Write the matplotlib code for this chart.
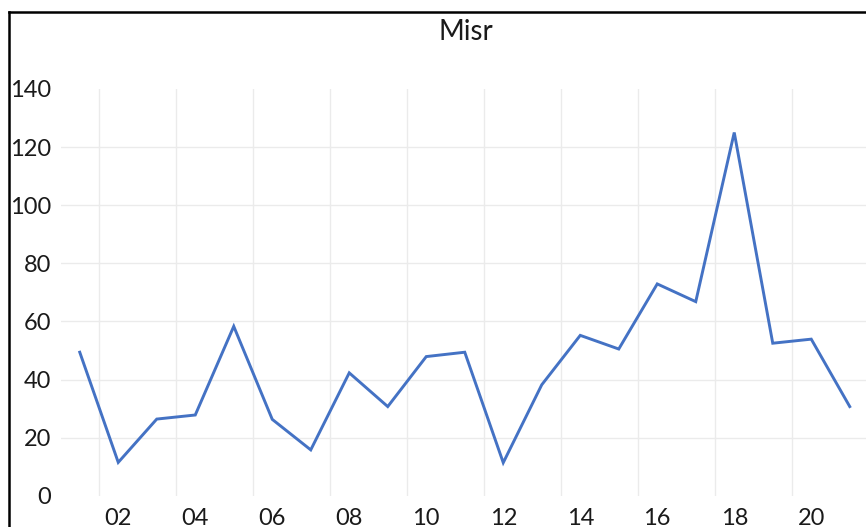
import matplotlib
matplotlib.use("Agg")
import matplotlib.pyplot as plt
from matplotlib.lines import Line2D

plt.rcParams['font.family'] = ['Lato', 'DejaVu Sans']

title = "Misr"
categories = ["01", "02", "03", "04", "05", "06", "07", "08", "09", "10", "11",
              "12", "13", "14", "15", "16", "17", "18", "19", "20", "21"]
values = [49.4, 11.5, 26.4, 27.8, 58.3, 26.3, 15.8, 42.3, 30.7, 47.9, 49.4,
          11.4, 38.2, 55.2, 50.5, 72.9, 66.8, 125.0, 52.5, 53.9, 30.7]
yticks = [0, 20, 40, 60, 80, 100, 120, 140]

W, H = 866, 527
fig = plt.figure(figsize=(W / 100, H / 100), dpi=100)
fig.patch.set_facecolor("white")

left_px, right_px = 60.5, 866.0
bottom_px, top_px = 495.8, 88.9
ax = fig.add_axes([left_px / W, (H - bottom_px) / H,
                   (right_px - left_px) / W, (bottom_px - top_px) / H])

n = len(categories)
xs = list(range(1, n + 1))
cat_w = 38.5
xmax = 0.5 + (right_px - left_px) / cat_w
ax.set_xlim(0.5, xmax)
ax.set_ylim(0, 140)

grid_c = "#EBEBEB"
for b in [i + 0.5 for i in range(1, n, 2)]:
    ax.axvline(b, color=grid_c, lw=1.0, zorder=1)
for yv in yticks[1:-1]:
    ax.axhline(yv, color=grid_c, lw=1.0, zorder=1)

ax.plot(xs, values, color="#4472C4", lw=2.1, solid_joinstyle="miter", zorder=3)

for s in ax.spines.values():
    s.set_visible(False)

ax.set_yticks(yticks)
ax.set_yticklabels([str(v) for v in yticks])
ax.set_xticks(xs[1::2])
ax.set_xticklabels(categories[1::2])
ax.tick_params(axis="both", length=0, labelsize=17, colors="#1a1a1a")
ax.tick_params(axis="y", pad=6.5)
ax.tick_params(axis="x", pad=8.5)

fig.text(465.5 / W, 1 - 31.5 / H, title, ha="center", va="center",
         fontsize=20, color="#1a1a1a")

# outer chart border (top & left visible)
fig.add_artist(Line2D([9 / W, 1.0], [1 - 12 / H, 1 - 12 / H],
                      transform=fig.transFigure, color="black", lw=1.8))
fig.add_artist(Line2D([9 / W, 9 / W], [0, 1 - 12 / H],
                      transform=fig.transFigure, color="black", lw=1.8))

fig.savefig("out.png", dpi=100, facecolor="white")
